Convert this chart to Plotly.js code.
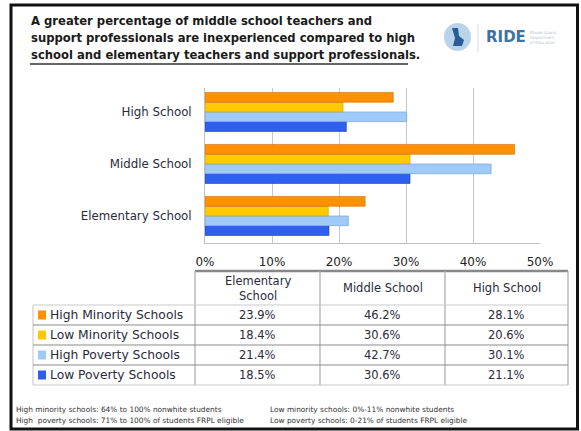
<!DOCTYPE html>
<html>
<head>
<meta charset="utf-8">
<script src="https://cdn.plot.ly/plotly-3.0.1.min.js"></script>
<style>
html,body{margin:0;padding:0;background:#fff;}
#chart{width:581px;height:431px;}
</style>
</head>
<body>
<div id="chart"></div>
<script>
// ---- data ----
const categories = ['Elementary School', 'Middle School', 'High School'];
const seriesNames = ['High Minority Schools', 'Low Minority Schools', 'High Poverty Schools', 'Low Poverty Schools'];
const highMinority = [23.9, 46.2, 28.1];
const lowMinority  = [18.4, 30.6, 20.6];
const highPoverty  = [21.4, 42.7, 30.1];
const lowPoverty   = [18.5, 30.6, 21.1];
const xTickVals = [0, 10, 20, 30, 40, 50];
const xTickText = ['0%', '10%', '20%', '30%', '40%', '50%'];
const tableColumns = ['Elementary<br>School', 'Middle School', 'High School'];
const titleLines = [
  'A greater percentage of middle school teachers and',
  'support professionals are inexperienced compared to high',
  'school and elementary teachers and support professionals.'
];
const footLeft = ['High minority schools: 64% to 100% nonwhite students',
                  'High  poverty schools: 71% to 100% of students FRPL eligible'];
const footRight = ['Low minority schools: 0%-11% nonwhite students',
                   'Low poverty schools: 0-21% of students FRPL eligible'];

// ---- styling ----
const W = 581, H = 431;
const colors = ['#FF9100', '#FFC900', '#9FCBFA', '#2F5FF0'];
const edge = ['#C86A00', '#C99A00', '#6E9CD0', '#1A3DB0'];
const seriesVals = [highMinority, lowMinority, highPoverty, lowPoverty];
const FONT = 'DejaVu Sans, Verdana, sans-serif';
const px = x => x / W;
const py = y => 1 - y / H;

// traces: plotly puts first trace at bottom of each group -> reverse
const traces = [];
for (let i = seriesNames.length - 1; i >= 0; i--) {
  traces.push({
    type: 'bar', orientation: 'h',
    name: seriesNames[i],
    y: categories, x: seriesVals[i],
    marker: {color: colors[i], line: {color: edge[i], width: 0.6}},
    hoverinfo: 'skip'
  });
}

const shapes = [];
const annotations = [];

// outer frame
shapes.push({type:'rect', xref:'paper', yref:'paper', x0:px(11), x1:px(577.5), y0:py(429), y1:py(5),
  line:{color:'#111', width:3}});
// title underline
shapes.push({type:'line', xref:'paper', yref:'paper', x0:px(30), x1:px(408), y0:py(64), y1:py(64),
  line:{color:'#666', width:2}});

// title
titleLines.forEach((t, i) => {
  annotations.push({xref:'paper', yref:'paper', x:px(29), y:py(21 + i*17), xanchor:'left', yanchor:'middle',
    text:'<b>' + t + '</b>', showarrow:false, font:{family:FONT, size:11.6, color:'#1a1a1a'}});
});

// logo
shapes.push({type:'circle', xref:'paper', yref:'paper', x0:px(444), x1:px(471), y0:py(51), y1:py(23),
  fillcolor:'#B9D3E8', line:{width:0}});
shapes.push({type:'path', xref:'paper', yref:'paper',
  path: `M ${px(452)} ${py(28)} L ${px(458)} ${py(28)} L ${px(459)} ${py(36)} L ${px(464)} ${py(40)} L ${px(462)} ${py(46)} L ${px(453)} ${py(46)} L ${px(455)} ${py(38)} Z`,
  fillcolor:'#2C5C95', line:{width:0}});
shapes.push({type:'line', xref:'paper', yref:'paper', x0:px(478), x1:px(478), y0:py(24), y1:py(52),
  line:{color:'#d8d8d8', width:1}});
annotations.push({xref:'paper', yref:'paper', x:px(484), y:py(37), xanchor:'left', yanchor:'middle',
  text:'<b>RIDE</b>', showarrow:false, font:{family:FONT, size:15, color:'#3D72A4'}});
annotations.push({xref:'paper', yref:'paper', x:px(528), y:py(37), xanchor:'left', yanchor:'middle', align:'left',
  text:'Rhode Island<br>Department<br>of Education', showarrow:false, font:{family:FONT, size:4, color:'#b5c3cf'}});

// table geometry
const colX = [195, 320, 445, 568];
const rowY = [305, 325, 345, 365, 385];
const headTop = 271, legLeft = 33;
const gridCol = '#a9a9a9';
// header top (thick)
shapes.push({type:'line', xref:'paper', yref:'paper', x0:px(colX[0]), x1:px(colX[3]), y0:py(headTop), y1:py(headTop),
  line:{color:'#888', width:2.5}});
// column lines
colX.forEach(x => shapes.push({type:'line', xref:'paper', yref:'paper', x0:px(x), x1:px(x), y0:py(headTop), y1:py(rowY[4]),
  line:{color:gridCol, width:1.2}}));
shapes.push({type:'line', xref:'paper', yref:'paper', x0:px(legLeft), x1:px(legLeft), y0:py(rowY[0]), y1:py(rowY[4]),
  line:{color:'#cfcfcf', width:1.2}});
// row lines
rowY.forEach((y, i) => shapes.push({type:'line', xref:'paper', yref:'paper', x0:px(legLeft), x1:px(colX[3]), y0:py(y), y1:py(y),
  line:{color: (i === 0 || i === 4) ? '#c9c9c9' : '#8c8c8c', width:1.2}}));

// header text
tableColumns.forEach((t, j) => {
  annotations.push({xref:'paper', yref:'paper', x:px((colX[j] + colX[j+1]) / 2), y:py(288), xanchor:'center', yanchor:'middle',
    text:t, showarrow:false, font:{family:FONT, size:11.5, color:'#2a2a3a'}});
});
// rows
const catOrderTable = [0, 1, 2]; // Elementary, Middle, High
seriesNames.forEach((name, i) => {
  const yc = (rowY[i] + rowY[i+1]) / 2;
  shapes.push({type:'rect', xref:'paper', yref:'paper', x0:px(38), x1:px(46), y0:py(yc + 4.5), y1:py(yc - 4.5),
    fillcolor:colors[i], line:{width:0}});
  annotations.push({xref:'paper', yref:'paper', x:px(48), y:py(yc), xanchor:'left', yanchor:'middle',
    text:name, showarrow:false, font:{family:FONT, size:12.3, color:'#2a2a3a'}});
  catOrderTable.forEach((c, j) => {
    annotations.push({xref:'paper', yref:'paper', x:px((colX[j] + colX[j+1]) / 2), y:py(yc), xanchor:'center', yanchor:'middle',
      text:seriesVals[i][c].toFixed(1) + '%', showarrow:false, font:{family:FONT, size:11.5, color:'#2a2a3a'}});
  });
});

// footnotes
[0, 1].forEach(i => {
  annotations.push({xref:'paper', yref:'paper', x:px(14), y:py(409 + i*11), xanchor:'left', yanchor:'middle',
    text:footLeft[i], showarrow:false, font:{family:FONT, size:7.4, color:'#333'}});
  annotations.push({xref:'paper', yref:'paper', x:px(268), y:py(409 + i*11), xanchor:'left', yanchor:'middle',
    text:footRight[i], showarrow:false, font:{family:FONT, size:7.4, color:'#333'}});
});

const layout = {
  width: W, height: H,
  margin: {l:0, r:0, t:0, b:0, pad:0},
  paper_bgcolor: '#fff', plot_bgcolor: '#fff',
  showlegend: false,
  barmode: 'group', bargap: 0.25, bargroupgap: 0,
  xaxis: {
    domain: [px(205), px(540)], range: [0, 50],
    tickvals: xTickVals, ticktext: xTickText,
    showgrid: true, gridcolor: '#c8c8c8', gridwidth: 1,
    zeroline: false, showline: true, linecolor: '#c0c0c0', linewidth: 1,
    ticks: '', ticklabelstandoff: 8,
    tickfont: {family:FONT, size:12, color:'#222'}, fixedrange: true
  },
  yaxis: {
    domain: [py(243), py(88)],
    type: 'category', categoryorder: 'array', categoryarray: categories,
    range: [-0.52, 2.46],
    showgrid: false, zeroline: false, showline: true, linecolor: '#c0c0c0', linewidth: 1,
    ticks: '', ticklabelstandoff: 10,
    tickfont: {family:FONT, size:11.8, color:'#2a2a3a'}, fixedrange: true
  },
  shapes: shapes,
  annotations: annotations
};

Plotly.newPlot('chart', traces, layout, {displayModeBar:false, staticPlot:true});
</script>
</body>
</html>
